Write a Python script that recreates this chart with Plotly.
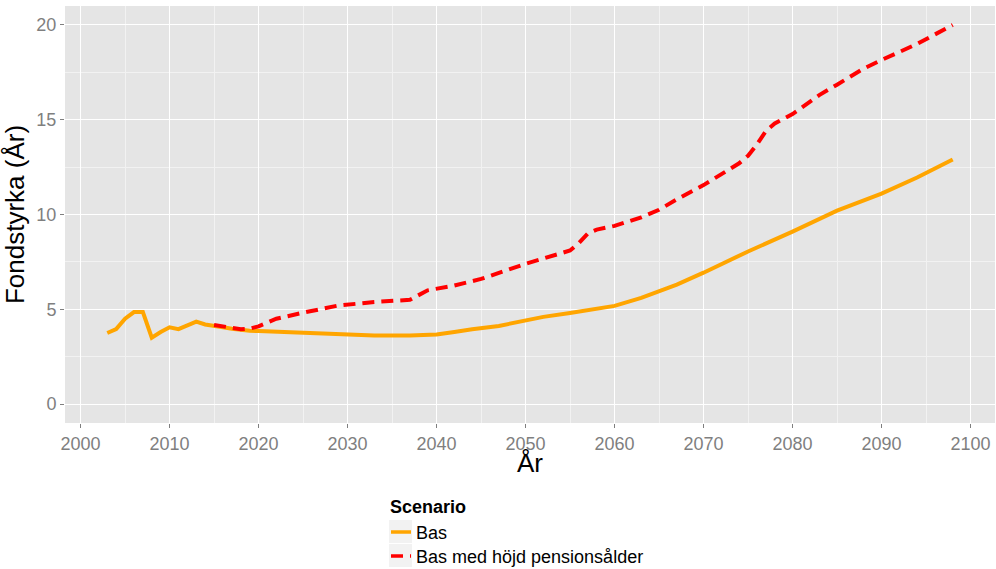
import plotly.graph_objects as go

# Bas scenario
bas_years = [2003, 2004, 2005, 2006, 2007, 2008, 2009, 2010, 2011, 2012, 2013, 2014,
             2015, 2016, 2017, 2018, 2019, 2020, 2022, 2024, 2026, 2029, 2031, 2033,
             2037, 2040, 2042, 2044, 2047, 2050, 2052, 2055, 2058, 2060, 2063, 2067,
             2070, 2075, 2080, 2085, 2090, 2094, 2098]
bas_values = [3.75, 3.95, 4.5, 4.85, 4.85, 3.5, 3.8, 4.05, 3.95, 4.15, 4.35, 4.2,
              4.1, 4.05, 3.97, 3.9, 3.87, 3.85, 3.82, 3.77, 3.72, 3.7, 3.66, 3.62,
              3.62, 3.67, 3.8, 3.95, 4.12, 4.4, 4.6, 4.8, 5.0, 5.18, 5.6, 6.3,
              6.93, 8.05, 9.1, 10.2, 11.1, 11.95, 12.9]

# Bas med höjd pensionsålder
hojd_years = [2015, 2016, 2017, 2018, 2019, 2020, 2021, 2022, 2025, 2027, 2029, 2033,
              2036, 2037, 2039, 2042, 2045, 2050, 2055, 2056, 2057, 2058, 2060, 2063,
              2065, 2067, 2070, 2072, 2074, 2075, 2076, 2077, 2078, 2080, 2083, 2085,
              2088, 2090, 2092, 2094, 2096, 2098]
hojd_values = [4.17, 4.1, 4.0, 3.95, 3.98, 4.1, 4.3, 4.5, 4.82, 5.0, 5.2, 5.38,
               5.45, 5.5, 6.0, 6.25, 6.6, 7.4, 8.1, 8.5, 9.0, 9.2, 9.4, 9.85,
               10.25, 10.8, 11.55, 12.1, 12.7, 13.1, 13.7, 14.4, 14.8, 15.3, 16.3, 16.85,
               17.7, 18.15, 18.55, 19.0, 19.5, 20.0]

series_names = ["Bas", "Bas med höjd pensionsålder"]
series_colors = ["#FFA500", "#FF0000"]
series_dash = ["solid", "12px,7px"]
legend_title = "Scenario"
x_ticks = [2000, 2010, 2020, 2030, 2040, 2050, 2060, 2070, 2080, 2090, 2100]
y_ticks = [0, 5, 10, 15, 20]

FONT = "Liberation Sans, Arial, sans-serif"
W, H = 996, 569
ML, MR, MT, MB = 65, 1, 6, 146
PW, PH = W - ML - MR, H - MT - MB


def px_x(px):
    return (px - ML) / PW


def px_y(py):
    return (H - MB - py) / PH


fig = go.Figure()
for xs, ys, name, color, dash in [
    (bas_years, bas_values, series_names[0], series_colors[0], series_dash[0]),
    (hojd_years, hojd_values, series_names[1], series_colors[1], series_dash[1]),
]:
    fig.add_trace(go.Scatter(x=xs, y=ys, mode="lines", name=name,
                             line=dict(color=color, width=4, dash=dash)))

axis_common = dict(
    showline=False, zeroline=False, ticks="outside", ticklen=4, tickwidth=1,
    tickcolor="#7F7F7F", tickfont=dict(family=FONT, size=18, color="#7F7F7F"),
    showgrid=True, gridcolor="#FFFFFF", gridwidth=1.2, automargin=False,
)

# legend drawn by hand (ggplot-style keys) so it does not push the plot margins
shapes = []
annotations = [
    dict(text="År", xref="paper", yref="paper", x=0.5, y=px_y(463),
         xanchor="center", yanchor="middle", showarrow=False,
         font=dict(family=FONT, size=26, color="#000000")),
    dict(text="<b>" + legend_title + "</b>", xref="paper", yref="paper",
         x=px_x(388), y=px_y(507), xanchor="left", yanchor="middle", showarrow=False,
         font=dict(family=FONT, size=18, color="#000000")),
]
key_tops = [520, 544]
for i, name in enumerate(series_names):
    top = key_tops[i]
    mid = top + 12
    shapes.append(dict(type="rect", xref="paper", yref="paper",
                       x0=px_x(389), x1=px_x(412), y0=px_y(top), y1=px_y(top + 23),
                       fillcolor="#F2F2F2", line=dict(width=0), layer="above"))
    shapes.append(dict(type="line", xref="paper", yref="paper",
                       x0=px_x(391), x1=px_x(411), y0=px_y(mid), y1=px_y(mid),
                       line=dict(color=series_colors[i], width=3.5, dash=series_dash[i]),
                       layer="above"))
    annotations.append(dict(text=name, xref="paper", yref="paper",
                            x=px_x(414), y=px_y(mid + 1), xanchor="left", yanchor="middle",
                            showarrow=False,
                            font=dict(family=FONT, size=18, color="#000000")))

fig.update_layout(
    width=W, height=H,
    margin=dict(l=ML, r=MR, t=MT, b=MB),
    paper_bgcolor="#FFFFFF", plot_bgcolor="#E5E5E5",
    font=dict(family=FONT, color="#000000"),
    xaxis=dict(range=[1998.25, 2102.75], tickvals=x_ticks,
               ticktext=[str(v) for v in x_ticks],
               minor=dict(dtick=5, tick0=2000, showgrid=True, gridcolor="#F2F2F2", gridwidth=1, ticks=""),
               **axis_common),
    yaxis=dict(range=[-1, 21], tickvals=y_ticks,
               ticktext=[str(v) for v in y_ticks],
               title=dict(text="Fondstyrka (År)", font=dict(family=FONT, size=26, color="#000000"), standoff=8),
               minor=dict(dtick=2.5, tick0=0, showgrid=True, gridcolor="#F2F2F2", gridwidth=1, ticks=""),
               **axis_common),
    shapes=shapes,
    annotations=annotations,
    showlegend=False,
)

# remove the default page margin so the figure sits at the window's top-left corner
fig.write_html("out.html", config={"displayModeBar": False},
               post_script="document.body.style.margin='0';document.body.style.overflow='hidden';")
